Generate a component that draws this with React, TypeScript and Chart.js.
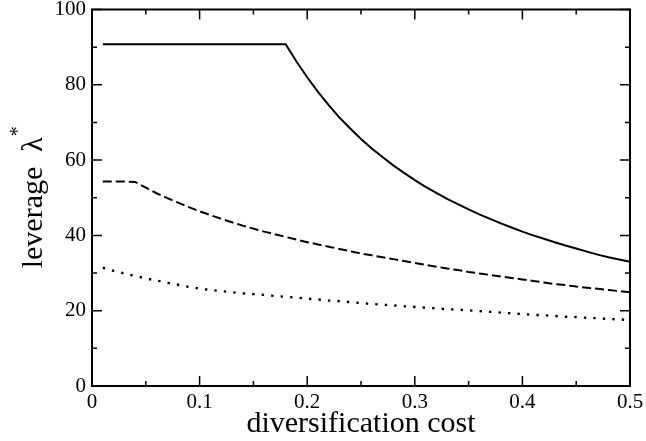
import React, { useEffect, useRef } from "react";
import { Chart, registerables } from "chart.js";

Chart.register(...registerables);

const costs = [
  0.01, 0.02, 0.03, 0.04, 0.05, 0.06, 0.07, 0.08, 0.09, 0.1,
  0.11, 0.12, 0.13, 0.14, 0.15, 0.16, 0.17, 0.18, 0.19, 0.2,
  0.21, 0.22, 0.23, 0.24, 0.25, 0.26, 0.27, 0.28, 0.29, 0.3,
  0.31, 0.32, 0.33, 0.34, 0.35, 0.36, 0.37, 0.38, 0.39, 0.4,
  0.41, 0.42, 0.43, 0.44, 0.45, 0.46, 0.47, 0.48, 0.49, 0.5,
];

const solidSeries = [
  90.8, 90.8, 90.8, 90.8, 90.8, 90.8, 90.8, 90.8, 90.8, 90.8,
  90.8, 90.8, 90.8, 90.8, 90.8, 90.8, 90.8, 90.8, 86.2, 82.0,
  78.1, 74.6, 71.3, 68.4, 65.6, 63.1, 60.8, 58.6, 56.6, 54.7,
  52.9, 51.3, 49.7, 48.3, 46.9, 45.6, 44.4, 43.2, 42.1, 41.0,
  40.0, 39.1, 38.2, 37.3, 36.5, 35.7, 34.9, 34.2, 33.6, 33.0,
];

const dashedSeries = [
  54.3, 54.3, 54.3, 54.2, 52.7, 51.2, 49.9, 48.7, 47.5, 46.4,
  45.4, 44.4, 43.5, 42.6, 41.8, 41.0, 40.3, 39.6, 38.9, 38.2,
  37.6, 37.0, 36.4, 35.8, 35.2, 34.7, 34.2, 33.7, 33.2, 32.7,
  32.2, 31.7, 31.2, 30.8, 30.3, 29.9, 29.5, 29.1, 28.7, 28.3,
  27.9, 27.5, 27.1, 26.8, 26.4, 26.1, 25.8, 25.5, 25.2, 24.9,
];

const dottedSeries = [
  31.4, 30.6, 29.9, 29.2, 28.6, 28.0, 27.4, 26.9, 26.3, 25.9,
  25.5, 25.2, 24.9, 24.6, 24.4, 24.2, 23.9, 23.7, 23.5, 23.2,
  23.0, 22.7, 22.5, 22.3, 22.0, 21.8, 21.6, 21.4, 21.2, 21.0,
  20.8, 20.6, 20.4, 20.3, 20.1, 19.9, 19.7, 19.5, 19.3, 19.1,
  18.9, 18.8, 18.6, 18.4, 18.3, 18.1, 18.0, 17.8, 17.7, 17.5,
];

const xMajorTicks = [0, 0.1, 0.2, 0.3, 0.4, 0.5];
const xMinorTicks = [0.05, 0.15, 0.25, 0.35, 0.45];
const yMajorTicks = [0, 20, 40, 60, 80, 100];
const yMinorTicks = [10, 30, 50, 70, 90];

const xTitle = "diversification cost";
const yTitleMain = "leverage  λ";
const yTitleSup = "*";

const SERIF = '"Liberation Serif", "Times New Roman", serif';

const framePlugin = {
  id: "frameTicks",
  afterDatasetsDraw(chart: any) {
    const { ctx, chartArea: a, scales } = chart;
    const xs = scales.x;
    const ys = scales.y;
    ctx.save();
    ctx.strokeStyle = "#000";
    ctx.lineWidth = 1.5;
    ctx.lineCap = "butt";
    const drawX = (vals: number[], len: number) => {
      vals.forEach((v) => {
        const px = xs.getPixelForValue(v);
        ctx.beginPath();
        ctx.moveTo(px, a.bottom);
        ctx.lineTo(px, a.bottom - len);
        ctx.moveTo(px, a.top);
        ctx.lineTo(px, a.top + len);
        ctx.stroke();
      });
    };
    const drawY = (vals: number[], len: number) => {
      vals.forEach((v) => {
        const py = ys.getPixelForValue(v);
        ctx.beginPath();
        ctx.moveTo(a.left, py);
        ctx.lineTo(a.left + len, py);
        ctx.moveTo(a.right, py);
        ctx.lineTo(a.right - len, py);
        ctx.stroke();
      });
    };
    drawX(xMajorTicks, 10);
    drawX(xMinorTicks, 5);
    drawY(yMajorTicks, 10);
    drawY(yMinorTicks, 5);
    ctx.lineWidth = 2;
    ctx.strokeRect(a.left, a.top, a.right - a.left, a.bottom - a.top);

    // y-axis title with superscript
    const cy = (a.top + a.bottom) / 2;
    ctx.fillStyle = "#000";
    ctx.font = `30px ${SERIF}`;
    const w1 = ctx.measureText(yTitleMain).width;
    ctx.font = `20px ${SERIF}`;
    const w2 = ctx.measureText(yTitleSup).width;
    ctx.translate(42, cy);
    ctx.rotate(-Math.PI / 2);
    ctx.textBaseline = "alphabetic";
    ctx.textAlign = "left";
    const x0 = -(w1 + w2) / 2;
    ctx.font = `30px ${SERIF}`;
    ctx.fillText(yTitleMain, x0, 0);
    ctx.font = `20px ${SERIF}`;
    ctx.fillText(yTitleSup, x0 + w1 + 1, -18);
    ctx.restore();
  },
};

export default function App() {
  const canvasRef = useRef<HTMLCanvasElement | null>(null);

  useEffect(() => {
    document.body.style.margin = "0";
    const canvas = canvasRef.current;
    if (!canvas) return;
    const mk = (vals: number[]) => costs.map((c, i) => ({ x: c, y: vals[i] }));
    const chart = new Chart(canvas, {
      type: "line",
      data: {
        datasets: [
          {
            data: mk(solidSeries),
            borderColor: "#000",
            borderWidth: 2,
            pointRadius: 0,
            tension: 0,
            fill: false,
          },
          {
            data: mk(dashedSeries),
            borderColor: "#000",
            borderWidth: 2,
            borderDash: [9, 4],
            pointRadius: 0,
            tension: 0,
            fill: false,
          },
          {
            data: mk(dottedSeries),
            borderColor: "#000",
            borderWidth: 2.4,
            borderDash: [2.4, 7.1],
            borderCapStyle: "butt",
            pointRadius: 0,
            tension: 0,
            fill: false,
          },
        ],
      },
      options: {
        animation: false,
        responsive: true,
        maintainAspectRatio: false,
        layout: { padding: { top: 9.5, right: 16, left: 0, bottom: 0 } },
        plugins: {
          legend: { display: false },
          tooltip: { enabled: false },
        },
        scales: {
          x: {
            type: "linear",
            min: 0,
            max: 0.5,
            afterBuildTicks: (s: any) => {
              s.ticks = xMajorTicks.map((v) => ({ value: v }));
            },
            afterFit: (s: any) => {
              s.height = 55;
              s.paddingLeft = 0;
              s.paddingRight = 0;
            },
            grid: { display: false, drawTicks: false },
            border: { display: false },
            ticks: {
              color: "#000",
              font: { family: SERIF, size: 21 },
              padding: 4,
              maxRotation: 0,
              autoSkip: false,
              callback: (v: any) => String(v),
            },
            title: {
              display: true,
              text: xTitle,
              color: "#000",
              font: { family: SERIF, size: 30 },
              padding: { top: 0, bottom: -1 },
            },
          },
          y: {
            type: "linear",
            min: 0,
            max: 100,
            afterBuildTicks: (s: any) => {
              s.ticks = yMajorTicks.map((v) => ({ value: v }));
            },
            afterFit: (s: any) => {
              s.width = 92;
              s.paddingTop = 0;
              s.paddingBottom = 0;
            },
            grid: { display: false, drawTicks: false },
            border: { display: false },
            ticks: {
              color: "#000",
              font: { family: SERIF, size: 21 },
              padding: 6,
              autoSkip: false,
              callback: (v: any) => String(v),
            },
          },
        },
      },
      plugins: [framePlugin],
    } as any);
    return () => chart.destroy();
  }, []);

  return (
    <div style={{ position: "fixed", left: 0, top: 0, width: 646, height: 441, background: "#fff" }}>
      <canvas ref={canvasRef} />
    </div>
  );
}
